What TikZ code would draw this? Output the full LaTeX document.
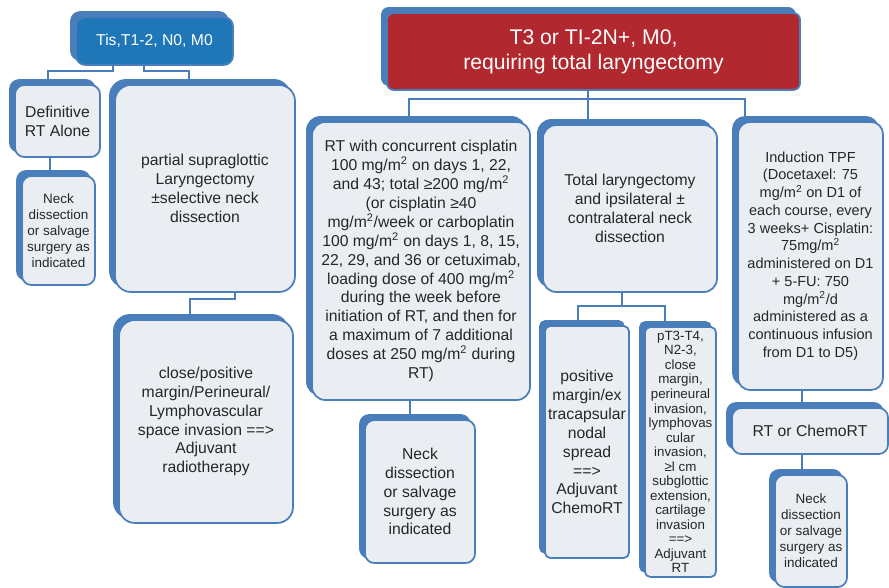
\documentclass[tikz,border=0pt]{standalone}
\usepackage{fontspec}
\setmainfont{Liberation Sans}
\usetikzlibrary{shadows,backgrounds}

\definecolor{linkblue}{HTML}{4A7EBB}
\definecolor{boxfill}{HTML}{EAEEF2}
\definecolor{tisblue}{HTML}{1F77B8}
\definecolor{redfill}{HTML}{B1282F}
\definecolor{txt}{HTML}{262626}

\tikzset{
  box/.style={draw=linkblue, line width=1.3pt, fill=boxfill, text=txt,
    rounded corners=7pt, align=center, inner sep=1pt,
    general shadow={fill=linkblue, draw=linkblue, line width=1.3pt,
      shadow xshift=-3.8pt, shadow yshift=3.8pt},
    font=\fontsize{11.8}{14.2}\selectfont},
  smalltext/.style={font=\fontsize{10.1}{12}\selectfont},
  link/.style={draw=linkblue, line width=1.8pt},
}

\begin{document}
\begin{tikzpicture}[x=0.75pt, y=-0.75pt]
  \useasboundingbox (0,0) rectangle (889,588);

  % Early stage branch
  \node[box, fill=tisblue, text=white, minimum width=117.75pt, minimum height=36pt]
    (tis) at (154.5,41) {Tis,T1-2, N0, M0};
  \node[box, minimum width=63.75pt, minimum height=54pt]
    (defrt) at (57.5,121) {Definitive\\RT Alone};
  \node[box, smalltext, minimum width=54.75pt, minimum height=81.75pt]
    (neckL) at (58.5,230.5) {Neck\\dissection\\or salvage\\surgery as\\indicated};
  \node[box, rounded corners=12pt, minimum width=135pt, minimum height=155.25pt]
    (partial) at (205,188.5) {partial supraglottic\\Laryngectomy\\±selective neck\\dissection};
  \node[box, rounded corners=12pt, minimum width=130.5pt, minimum height=152.25pt]
    (close) at (206,421.5) {close/positive\\margin/Perineural/\\Lymphovascular\\space invasion ==>\\Adjuvant\\radiotherapy};

  % Advanced stage branch
  \node[box, fill=redfill, text=white, rounded corners=5pt,
    font=\fontsize{15.9}{18.8}\selectfont, minimum width=309.75pt, minimum height=57.75pt]
    (red) at (593.5,51.5) {T3 or TI-2N+, M0,\\requiring total laryngectomy};
  \node[box, rounded corners=10pt, minimum width=163.5pt, minimum height=208.5pt]
    (rtconc) at (421,261) {RT with concurrent cisplatin\\100 mg/m\textsuperscript{2} on days 1, 22,\\and 43; total ≥200 mg/m\textsuperscript{2}\\(or cisplatin ≥40\\mg/m\textsuperscript{2}/week or carboplatin\\100 mg/m\textsuperscript{2} on days 1, 8, 15,\\22, 29, and 36 or cetuximab,\\loading dose of 400 mg/m\textsuperscript{2}\\during the week before\\initiation of RT, and then for\\a maximum of 7 additional\\doses at 250 mg/m\textsuperscript{2} during\\RT)};
  \node[box, rounded corners=10pt, minimum width=130.5pt, minimum height=125.25pt]
    (total) at (630,208.5) {Total laryngectomy\\and ipsilateral ±\\contralateral neck\\dissection};
  \node[box, rounded corners=9pt, font=\fontsize{10.9}{13.3}\selectfont,
    minimum width=108.75pt, minimum height=201pt]
    (tpf) at (810.5,256) {Induction TPF\\(Docetaxel: 75\\mg/m\textsuperscript{2} on D1 of\\each course, every\\3 weeks+ Cisplatin:\\75mg/m\textsuperscript{2}\\administered on D1\\+ 5-FU: 750\\mg/m\textsuperscript{2}/d\\administered as a\\continuous infusion\\from D1 to D5)};
  \node[box, rounded corners=4pt, minimum width=63pt, minimum height=174pt]
    (posm) at (587,442) {positive\\margin/ex\\tracapsular\\nodal\\spread\\==>\\Adjuvant\\ChemoRT};
  \node[box, rounded corners=4pt, font=\fontsize{10}{10.9}\selectfont,
    minimum width=53.25pt, minimum height=187.5pt]
    (pt3) at (680.5,452) {pT3-T4,\\N2-3,\\close\\margin,\\perineural\\invasion,\\lymphovas\\cular\\invasion,\\≥l cm\\subglottic\\extension,\\cartilage\\invasion\\==>\\Adjuvant\\RT};
  \node[box, minimum width=82.5pt, minimum height=107.25pt]
    (neckM) at (420,491.5) {Neck\\dissection\\or salvage\\surgery as\\indicated};
  \node[box, minimum width=117pt, minimum height=34.5pt]
    (rtchemo) at (810,431) {RT or ChemoRT};
  \node[box, smalltext, minimum width=54pt, minimum height=84pt]
    (neckR) at (811,531) {Neck\\dissection\\or salvage\\surgery as\\indicated};

  % Connectors
  \begin{pgfonlayer}{background}
    \draw[link] (tis.south -| 113,0) -- ++(0,5) -| (defrt.north -| 48,0);
    \draw[link] (tis.south -| 144,0) -- ++(0,5) -| (partial.north -| 189,0);
    \draw[link] (defrt.south -| 50,0) -- (neckL.north -| 50,0);
    \draw[link] (partial.south -| 235,0) -- ++(0,6) -| (close.north -| 190,0);
    \draw[link] (red.south -| 588,0) -- ++(0,8) -| (rtconc.north -| 409,0);
    \draw[link] (red.south -| 588,0) -- (total.north -| 588,0);
    \draw[link] (red.south -| 588,0) -- ++(0,8) -| (tpf.north -| 745,0);
    \draw[link] (total.south -| 622,0) -- ++(0,13) -| (posm.north -| 578,0);
    \draw[link] (total.south -| 622,0) -- ++(0,13) -| (pt3.north -| 665,0);
    \draw[link] (rtconc.south -| 410,0) -- (neckM.north -| 410,0);
    \draw[link] (tpf.south -| 802,0) -- (rtchemo.north -| 802,0);
    \draw[link] (rtchemo.south -| 802,0) -- (neckR.north -| 802,0);
  \end{pgfonlayer}
\end{tikzpicture}
\end{document}
